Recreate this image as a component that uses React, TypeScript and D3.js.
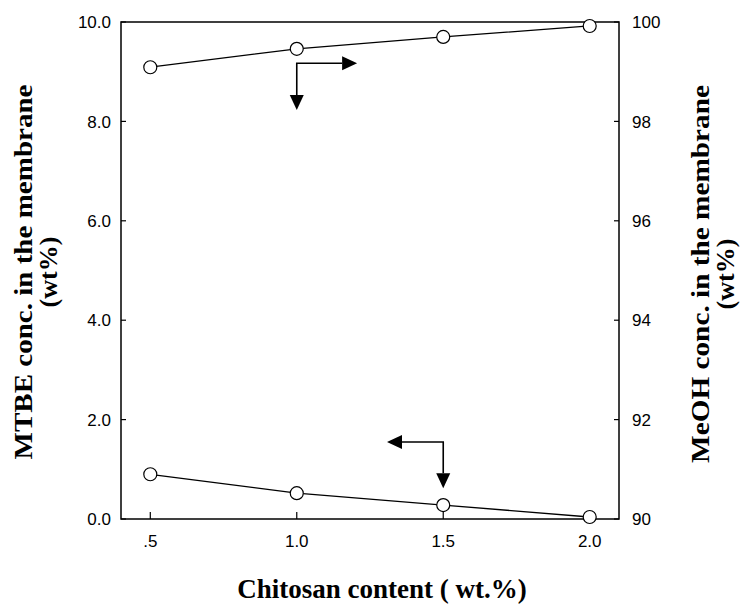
import React from "react";
import * as d3 from "d3";

// chitosan content (wt.%)
const chitosan = [0.5, 1.0, 1.5, 2.0];
// MTBE conc. in the membrane (wt%) - left axis
const mtbe = [0.9, 0.52, 0.28, 0.04];
// MeOH conc. in the membrane (wt%) - right axis
const meoh = [99.09, 99.46, 99.7, 99.92];

const xTicks = [0.5, 1.0, 1.5, 2.0];
const xTickLabels = [".5", "1.0", "1.5", "2.0"];
const leftTicks = [0, 2, 4, 6, 8, 10];
const rightTicks = [90, 92, 94, 96, 98, 100];

// arrow annotations in data units: corner, horizontal tip x, vertical tip y (left axis units)
const arrowUp = { x: 1.0, y: 9.17, hx: 1.206, vy: 8.23 };
const arrowDown = { x: 1.5, y: 1.55, hx: 1.308, vy: 0.62 };

const W = 741;
const H = 610;
const m = { top: 22, right: 122, bottom: 91, left: 121 };

const App = () => {
  const x = d3.scaleLinear().domain([0.4, 2.1]).range([m.left, W - m.right]);
  const yL = d3.scaleLinear().domain([0, 10]).range([H - m.bottom, m.top]);
  const yR = d3.scaleLinear().domain([90, 100]).range([H - m.bottom, m.top]);

  const line = d3
    .line<[number, number]>()
    .x((d) => d[0])
    .y((d) => d[1]);

  const lowerPts: [number, number][] = chitosan.map((c, i) => [x(c), yL(mtbe[i])]);
  const upperPts: [number, number][] = chitosan.map((c, i) => [x(c), yR(meoh[i])]);

  const x0 = x.range()[0];
  const x1 = x.range()[1];
  const y0 = yL.range()[0];
  const y1 = yL.range()[1];

  const head = 15; // arrowhead length
  const hw = 7; // arrowhead half width

  const drawArrow = (a, dirX) => {
    const cx = x(a.x);
    const cy = yL(a.y);
    const tx = x(a.hx);
    const ty = yL(a.vy);
    return (
      <g>
        <path
          d={`M${tx - dirX * head},${cy} L${cx},${cy} L${cx},${ty - head}`}
          fill="none"
          stroke="#000"
          strokeWidth={1.6}
        />
        <path
          d={`M${tx},${cy} L${tx - dirX * head},${cy - hw} L${tx - dirX * head},${cy + hw} Z`}
          fill="#000"
        />
        <path d={`M${cx},${ty} L${cx - hw},${ty - head} L${cx + hw},${ty - head} Z`} fill="#000" />
      </g>
    );
  };

  const labelFont = "'Liberation Serif', 'Times New Roman', serif";
  const tickFont = "'Liberation Sans', Arial, sans-serif";

  return (
    <svg width={W} height={H} style={{ position: "absolute", left: 0, top: 0, background: "#fff" }}>
      <rect width={W} height={H} fill="#fff" />

      {/* frame */}
      <rect x={x0} y={y1} width={x1 - x0} height={y0 - y1} fill="none" stroke="#000" strokeWidth={1.5} />

      {/* left axis ticks */}
      {leftTicks.map((t) => (
        <g key={"l" + t}>
          <line x1={x0} x2={x0 + 5} y1={yL(t)} y2={yL(t)} stroke="#000" strokeWidth={1.2} />
          <text
            x={x0 - 10}
            y={yL(t)}
            dy="0.36em"
            textAnchor="end"
            fontFamily={tickFont}
            fontSize={17}
          >
            {t.toFixed(1)}
          </text>
        </g>
      ))}

      {/* right axis ticks */}
      {rightTicks.map((t) => (
        <g key={"r" + t}>
          <line x1={x1} x2={x1 - 5} y1={yR(t)} y2={yR(t)} stroke="#000" strokeWidth={1.2} />
          <text x={x1 + 13} y={yR(t)} dy="0.36em" textAnchor="start" fontFamily={tickFont} fontSize={17}>
            {t}
          </text>
        </g>
      ))}

      {/* x axis ticks */}
      {xTicks.map((t, i) => (
        <g key={"x" + t}>
          <line x1={x(t)} x2={x(t)} y1={y0} y2={y0 - 7} stroke="#000" strokeWidth={1.2} />
          <text x={x(t)} y={y0 + 28} textAnchor="middle" fontFamily={tickFont} fontSize={17}>
            {xTickLabels[i]}
          </text>
        </g>
      ))}

      {/* series lines */}
      <path d={line(upperPts) || ""} fill="none" stroke="#000" strokeWidth={1.3} />
      <path d={line(lowerPts) || ""} fill="none" stroke="#000" strokeWidth={1.3} />

      {upperPts.concat(lowerPts).map((p, i) => (
        <circle key={"c" + i} cx={p[0]} cy={p[1]} r={6.5} fill="#fff" stroke="#000" strokeWidth={1.2} />
      ))}

      {/* annotation arrows */}
      {drawArrow(arrowUp, 1)}
      {drawArrow(arrowDown, -1)}

      {/* axis titles */}
      <text
        x={(x0 + x1) / 2 + 12}
        y={H - 12}
        textAnchor="middle"
        fontFamily={labelFont}
        fontWeight="bold"
        fontSize={27}
      >
        Chitosan content ( wt.%)
      </text>

      <g transform={`translate(${32},${272}) rotate(-90)`}>
        <text
          textAnchor="middle"
          fontFamily={labelFont}
          fontWeight="bold"
          fontSize={26}
          textLength={375}
          lengthAdjust="spacingAndGlyphs"
        >
          MTBE conc. in the membrane
        </text>
        <text y={25} textAnchor="middle" fontFamily={labelFont} fontWeight="bold" fontSize={26}>
          (wt%)
        </text>
      </g>

      <g transform={`translate(${709},${274}) rotate(-90)`}>
        <text
          textAnchor="middle"
          fontFamily={labelFont}
          fontWeight="bold"
          fontSize={26}
          textLength={378}
          lengthAdjust="spacingAndGlyphs"
        >
          MeOH conc. in the membrane
        </text>
        <text y={25} textAnchor="middle" fontFamily={labelFont} fontWeight="bold" fontSize={26}>
          (wt%)
        </text>
      </g>
    </svg>
  );
};

export default App;
